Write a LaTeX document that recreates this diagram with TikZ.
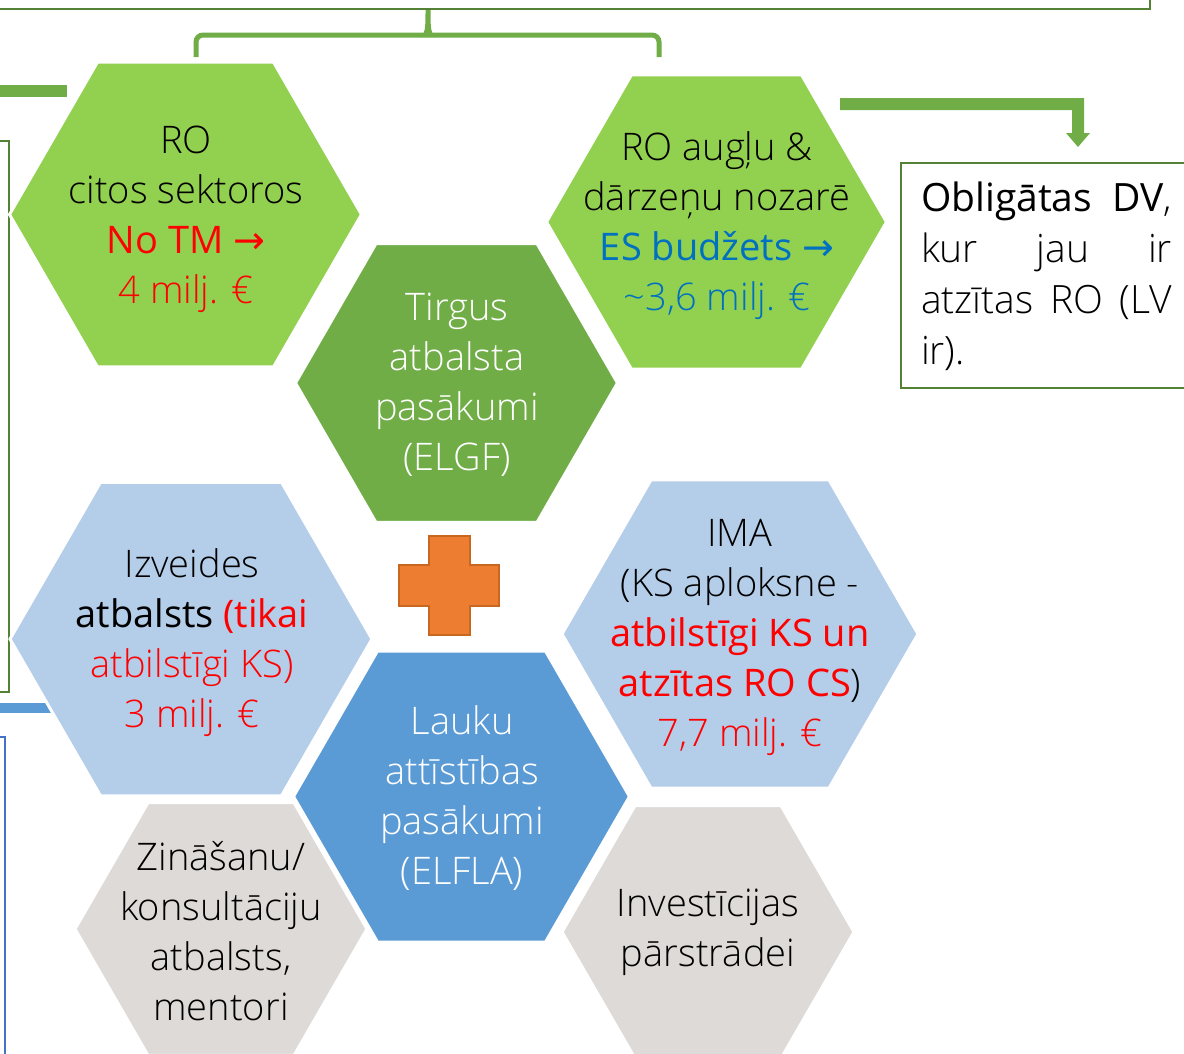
\documentclass[tikz,border=0pt]{standalone}
\usepackage{fontspec}
\setmainfont{Open Sans}[UprightFont=* Light]
\newfontfamily\reg{Open Sans}
\newfontfamily\arrowfont{DejaVu Sans}
\usetikzlibrary{shapes.geometric}
\definecolor{lgreen}{HTML}{92D050}
\definecolor{dgreen}{HTML}{70AD47}
\definecolor{lineg}{HTML}{548235}
\definecolor{lblue}{HTML}{B4CDE9}
\definecolor{mblue}{HTML}{5B9BD5}
\definecolor{lineb}{HTML}{4472C4}
\definecolor{greyhex}{HTML}{DEDAD7}
\definecolor{orangef}{HTML}{ED7D31}
\definecolor{oranged}{HTML}{C9661F}
\definecolor{tblue}{HTML}{0070C0}
\newcommand\myarr{{\arrowfont →}}
\newcommand\jline[1]{\leavevmode\makebox[251pt][s]{#1}}
\begin{document}
\begin{tikzpicture}[x=1pt,y=-1pt,
  hex/.style={regular polygon, regular polygon sides=6, draw=white, line width=3pt, inner sep=0pt},
  txt/.style={align=center, font=\fontsize{38}{50}\selectfont, inner sep=0pt},
  frame/.style={draw=lineg, line width=2pt},
  greenbar/.style={fill=dgreen}]
\useasboundingbox (0,0) rectangle (1184,1053);
\clip (0,0) rectangle (1184,1053);
% frames and bars
\draw[frame] (-10,-10) rectangle (1150,8.5);
\draw[draw=lineg, line width=1.5pt] (-10,141) rectangle (9,692);
\draw[draw=lineb, line width=1.5pt] (-10,737) rectangle (5,1070);
\fill[fill=mblue] (0,703) rectangle (120,713);
\fill[greenbar] (0,85) rectangle (67,97);
\draw[frame] (901,163) rectangle (1200,388);
% brace
\coordinate (bl) at (196,57);
\coordinate (br) at (659,57);
\coordinate (btip) at (428,10);
\draw[draw=dgreen, line width=5pt, rounded corners=7pt] (bl) -- (196,35) -- (659,35) -- (br);
\fill[dgreen] (419,37) .. controls (425.5,35) and (425.5,28) .. (425.5,10) -- (430.5,10) .. controls (430.5,28) and (430.5,35) .. (437,37) -- cycle;
% right block arrow
\fill[greenbar] (840,98) -- (1084,98) -- (1084,133) -- (1090,133) -- (1078,147) -- (1066,133) -- (1072,133) -- (1072,110) -- (840,110) -- cycle;
% hexagons
\node[hex, fill=lgreen, minimum size=352pt] (h1) at (185.5,214.5) {};
\node[hex, fill=lgreen, minimum size=340pt] (h2) at (716.5,222) {};
\node[hex, fill=dgreen, minimum size=322pt] (h3) at (456.5,383) {};
\node[hex, fill=lblue, minimum size=362pt] (h4) at (191,639) {};
\node[hex, fill=lblue, minimum size=356pt] (h5) at (740,634) {};
\node[hex, fill=greyhex, minimum size=292pt] (h7) at (221,929) {};
\node[hex, fill=greyhex, minimum size=292pt] (h8) at (708,932) {};
\node[hex, fill=mblue, minimum size=336pt] (h6) at (461.5,796.5) {};
% plus
\draw[fill=orangef, draw=oranged, line width=2pt] (428.5,536) -- (469.5,536) -- (469.5,564.5) -- (499,564.5) -- (499,605.5) -- (469.5,605.5) -- (469.5,635) -- (428.5,635) -- (428.5,605.5) -- (399,605.5) -- (399,564.5) -- (428.5,564.5) -- cycle;
% texts
\node[txt] (t1) at (186,219) {RO\\citos sektoros\\{\reg\color{red}No TM \myarr}\\{\color{red}4 milj. €}};
\node[txt] (t2) at (717,226) {RO augļu \&\\dārzeņu nozarē\\{\reg\color{tblue}ES budžets \myarr}\\{\color{tblue}\textasciitilde3,6 milj. €}};
\node[txt, text=white] (t3) at (457,385) {Tirgus\\atbalsta\\pasākumi\\(ELGF)};
\node[txt] (t4) at (192,643) {Izveides\\{\reg atbalsts} {\reg\color{red}(tikai}\\{\color{red}atbilstīgi KS)}\\{\color{red}3 milj. €}};
\node[txt] (t5) at (740,637.5) {IMA\\(KS aploksne -\\{\reg\color{red}atbilstīgi KS un}\\{\reg\color{red}atzītas RO CS})\\{\color{red}7,7 milj. €}};
\node[txt, text=white] (t6) at (462,798) {Lauku\\attīstības\\pasākumi\\(ELFLA)};
\node[txt] (t7) at (221,931.5) {Zināšanu/\\konsultāciju\\atbalsts,\\mentori};
\node[txt] (t8) at (708,932) {Investīcijas\\pārstrādei};
\node[txt, align=left, text width=251pt, font=\fontsize{39}{51}\selectfont] (t9) at (1046.5,276) {\jline{{\reg Obligātas}\hfill{\reg DV},}\\\jline{kur\hfill jau\hfill ir}\\\jline{atzītas\hfill RO\hfill (LV}\\ir).};
\end{tikzpicture}
\end{document}
